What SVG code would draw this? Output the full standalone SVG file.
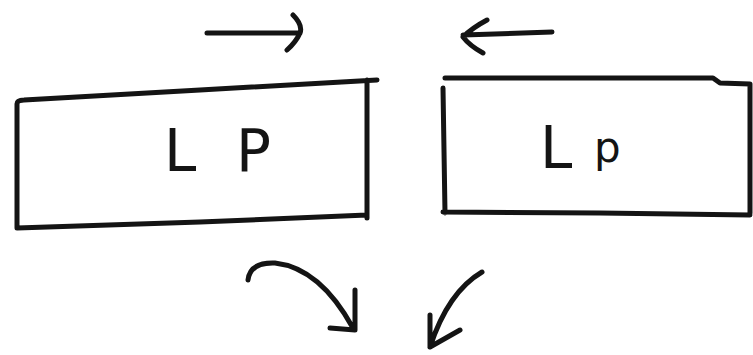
<svg xmlns="http://www.w3.org/2000/svg" width="753" height="355" viewBox="0 0 753 355">
<style>
.s{fill:none;stroke:#141414;stroke-width:5;stroke-linecap:round;stroke-linejoin:round}
.t{font-family:"DejaVu Sans","Liberation Sans",sans-serif;font-size:58px;fill:#141414}
</style>
<rect width="753" height="355" fill="#ffffff"/>
<g id="box-left">
<path class="s" d="M17,104 Q17,100 24,100 L200,90 L377,80 M367,80 L367,218 M17,104 L17,228 L200,222 L367,215"/>
<text class="t" x="164" y="171">L</text>
<text class="t" x="236" y="171">P</text>
</g>
<g id="box-right">
<path class="s" d="M445,78 L713,78 L720,83 L750,84 M443,88 L445,213 M443,212 L600,213 L750,215 M750,84 L750,213"/>
<text class="t" x="540" y="168">L</text>
<text class="t" x="594" y="162" style="font-size:42px">p</text>
</g>
<g id="connectors">
<path class="s" d="M207,33 L300,33 M293,15 Q303,25 300,33 Q296,42 287,50"/>
<path class="s" d="M552,32 L463,35 M487,20 Q472,28 463,37 Q470,46 483,53"/>
<path class="s" d="M248,280 Q250,262 275,263 Q320,268 353,328 M355,290 L355,330 L330,328"/>
<path class="s" d="M482,272 Q448,292 430,347 M430,315 L430,347 L460,330"/>
</g>
</svg>
